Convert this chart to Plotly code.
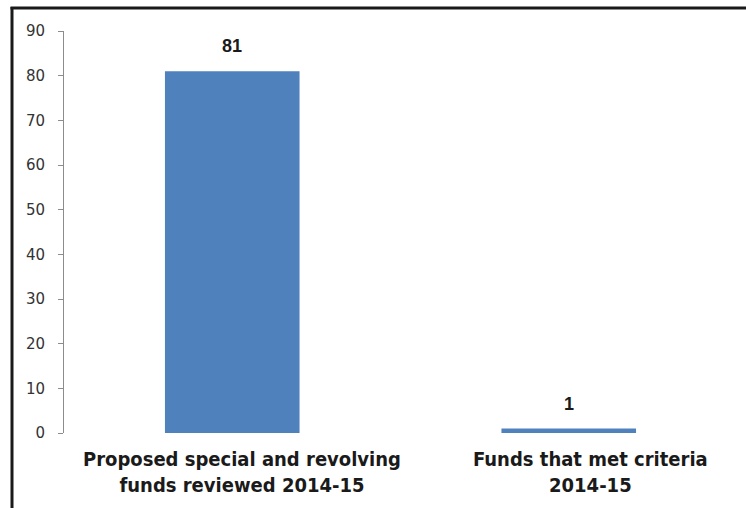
import plotly.graph_objects as go

categories = ["Proposed special and revolving<br>funds reviewed 2014-15",
              "Funds that met criteria<br>2014-15"]
values = [81, 1]
value_labels = ["81", "1"]
y_ticks = [0, 10, 20, 30, 40, 50, 60, 70, 80, 90]
label_xshift = [10, 22]

fig = go.Figure()
fig.add_trace(go.Bar(x=categories, y=values, marker=dict(color="#4F81BD", line=dict(width=0)),
                     hoverinfo="skip"))

for c, v, t in zip(categories, values, value_labels):
    fig.add_annotation(x=c, y=v, text=t, showarrow=False, yanchor="bottom", yshift=13,
                       font=dict(family="Liberation Sans", size=18, color="#1a1a1a", weight="bold"),
                       xref="x", yref="y")

for c, dx in zip(categories, label_xshift):
    fig.add_annotation(x=c, y=0, text=c, showarrow=False, yanchor="top", yshift=-12, xshift=dx,
                       align="center",
                       font=dict(family="Liberation Sans Narrow, DejaVu Sans Condensed, Roboto",
                                 size=20, color="#1a1a1a", weight="bold"),
                       xref="x", yref="y")

W, H = 746, 508
l, r, t, b = 64, 9, 31, 75
pw, ph = W - l - r, H - t - b

def px(xp):
    return (xp - l) / pw

def py(yp):
    return (H - b - yp) / ph

fig.add_shape(type="line", xref="paper", yref="paper", x0=px(12), x1=px(12), y0=py(7), y1=py(510),
              line=dict(color="#1a1a1a", width=3))
fig.add_shape(type="line", xref="paper", yref="paper", x0=px(10.5), x1=px(750), y0=py(8), y1=py(8),
              line=dict(color="#1a1a1a", width=3))

fig.update_layout(
    width=W, height=H,
    margin=dict(l=l, r=r, t=t, b=b),
    paper_bgcolor="white", plot_bgcolor="white",
    bargap=0.6,
    showlegend=False,
    xaxis=dict(showline=False, showgrid=False, zeroline=False, ticks="", showticklabels=False,
               range=[-0.5, 1.5]),
    yaxis=dict(range=[0, 90], tickvals=y_ticks, showgrid=False, zeroline=False,
               showline=True, linecolor="#8c8c8c", linewidth=1,
               ticks="outside", ticklen=5, tickcolor="#8c8c8c",
               tickfont=dict(family="DejaVu Sans", size=15, color="#333333"),
               ticklabelstandoff=10),
)

fig.write_html("out.html")
